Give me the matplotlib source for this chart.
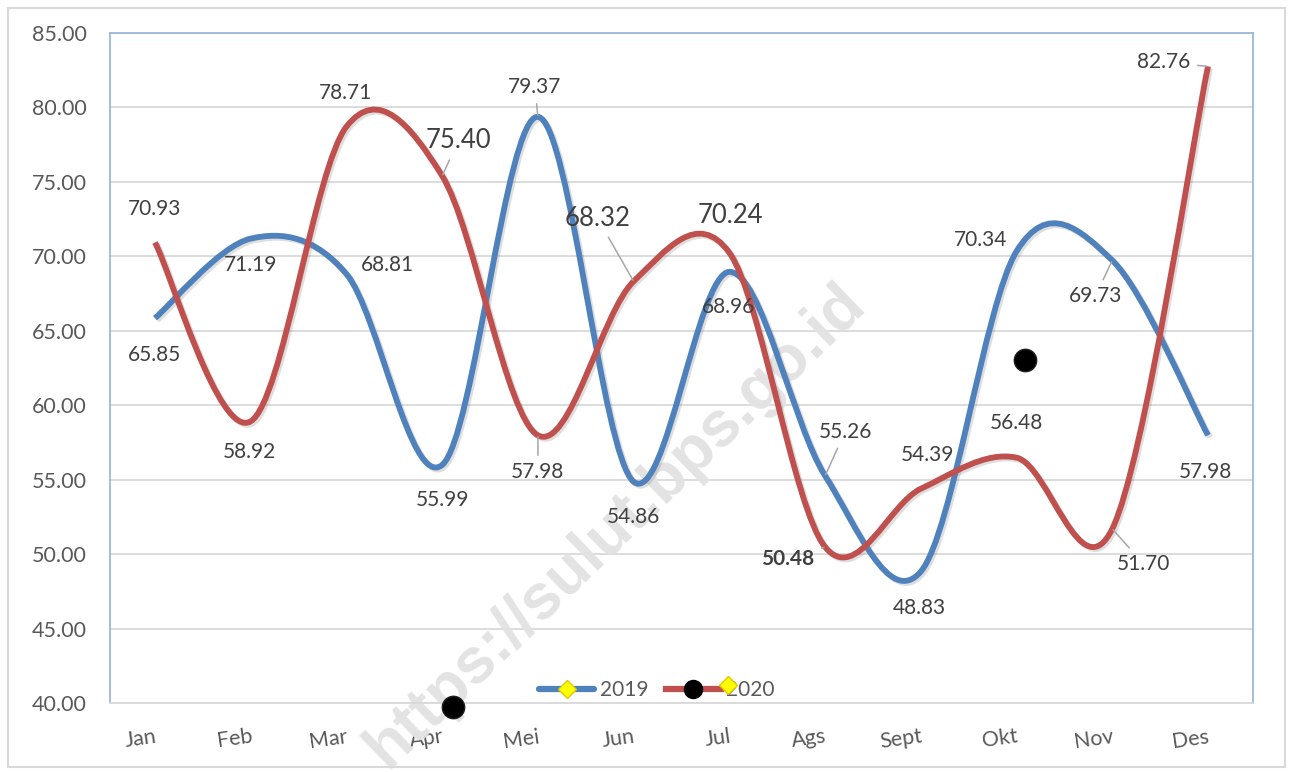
import numpy as np
import matplotlib.pyplot as plt
import matplotlib.patheffects as pe
from matplotlib.path import Path
from matplotlib.patches import PathPatch, Rectangle
from matplotlib.lines import Line2D

plt.rcParams['font.family'] = ['Lato', 'DejaVu Sans']

months = ["Jan", "Feb", "Mar", "Apr", "Mei", "Jun", "Jul", "Ags", "Sept", "Okt", "Nov", "Des"]
v2019 = [65.85, 71.19, 68.81, 55.99, 79.37, 54.86, 68.96, 55.26, 48.83, 70.34, 69.73, 57.98]
v2020 = [70.93, 58.92, 78.71, 75.40, 57.98, 68.32, 70.24, 50.48, 54.39, 56.48, 51.70, 82.76]

# label offsets (pixels) and whether a leader line is drawn
off2019 = [(0, -37), (0, -26), (41, 9), (0, -35), (-3, 30), (0, -35),
           (-1, -35), (20, 44), (-1, -36), (-36, 11), (-17, -36), (-3, -37)]
lead2019 = [False, False, False, False, True, False, False, True, False, False, True, False]
off2020 = [(0, 33), (-1, -31), (-1, 34), (16, 35), (0, -37), (-36, 63),
           (1, 37), (-37, -12), (7, 34), (0, 35), (31, -35), (-44, 4)]
lead2020 = [False, False, False, True, True, True, False, True, False, False, True, True]
big2020 = [False, False, False, True, False, True, True, False, False, False, False, False]

# stray black markers in the original picture
stray_x = [3.11, 9.09]
stray_y = [39.73, 63.04]


def smooth_path(xs, ys):
    pts = np.column_stack([xs, ys])
    n = len(pts)
    verts = [pts[0]]
    codes = [Path.MOVETO]
    for i in range(n - 1):
        p0 = pts[max(i - 1, 0)]
        p1 = pts[i]
        p2 = pts[i + 1]
        p3 = pts[min(i + 2, n - 1)]
        c1 = p1 + (p2 - p0) / 6.0
        c2 = p2 - (p3 - p1) / 6.0
        verts += [c1, c2, p2]
        codes += [Path.CURVE4] * 3
    return Path(verts, codes)


fig = plt.figure(figsize=(12.9, 7.72), dpi=100)
fig.patches.append(Rectangle((8 / 1290, 5 / 772), 1277 / 1290, 759 / 772,
                             transform=fig.transFigure, fill=False,
                             edgecolor='#d9d9d9', lw=1.5))
ax = fig.add_axes([110 / 1290, 1 - 703 / 772, 1143 / 1290, 670 / 772])

x = np.arange(len(months))
ax.set_xlim(-0.47, 11.47)
ax.set_ylim(40, 85)
ax.set_yticks(np.arange(40, 86, 5))
ax.set_yticklabels([f"{t:.2f}" for t in np.arange(40, 86, 5)])
ax.set_xticks(x)
ax.set_xticklabels(months, rotation=8, ha='right', rotation_mode='anchor')
ax.tick_params(length=0, labelsize=15.5, colors='#595959')
ax.tick_params(axis='x', pad=17)
ax.tick_params(axis='y', pad=17)
ax.grid(axis='y', color='#d9d9d9', lw=1.3)
ax.set_axisbelow(True)
for s in ['left', 'top', 'right']:
    ax.spines[s].set_color('#95b3d7')
    ax.spines[s].set_linewidth(1.2)
ax.spines['bottom'].set_color('#d9d9d9')
ax.spines['bottom'].set_linewidth(1.3)

# watermark
ax.text(0.442, 0.265, "https://sulut.bps.go.id", transform=ax.transAxes,
        rotation=44, fontsize=46, fontweight='bold', color='#e3e3e3',
        ha='center', va='center', zorder=1, family='Liberation Sans')

shadow = [pe.SimpleLineShadow(offset=(1.5, -1.5), alpha=0.25, shadow_color='#7f7f7f'), pe.Normal()]
for vals, col in [(v2019, '#4f81bd'), (v2020, '#c0504d')]:
    patch = PathPatch(smooth_path(x, vals), fill=False, edgecolor=col, lw=4.2,
                      capstyle='butt', joinstyle='round', zorder=3)
    patch.set_path_effects(shadow)
    ax.add_patch(patch)

lead = dict(arrowstyle='-', color='#a6a6a6', lw=1.1, shrinkA=3, shrinkB=1)
for i in range(len(months)):
    ax.annotate(f"{v2019[i]:.2f}", (x[i], v2019[i]), xytext=off2019[i],
                textcoords='offset pixels', ha='center', va='center',
                fontsize=15, color='#404040', zorder=5,
                arrowprops=lead if lead2019[i] else None)
    weight = 'bold' if i == 7 else 'normal'
    ax.annotate(f"{v2020[i]:.2f}", (x[i], v2020[i]), xytext=off2020[i],
                textcoords='offset pixels', ha='center', va='center',
                fontsize=18.5 if big2020[i] else 15, fontweight=weight,
                color='#404040', zorder=5,
                arrowprops=lead if lead2020[i] else None)

ax.scatter(stray_x, stray_y, s=260, color='black', edgecolors='#202020',
           zorder=6, clip_on=False)

h1 = Line2D([], [], color='#4f81bd', lw=4.5, solid_capstyle='round', marker='D',
            markersize=9, markerfacecolor='#ffff00', markeredgecolor='#e6c800')
h2 = Line2D([], [], color='#c0504d', lw=4.5, marker='o', markersize=13,
            markerfacecolor='black', markeredgecolor='black')
leg = ax.legend([h1, h2], ["2019", "2020"], loc='center',
                bbox_to_anchor=(0.4786, 0.0195), ncol=2, frameon=False,
                fontsize=15, handlelength=2.65, columnspacing=0.85,
                handletextpad=0.25, borderpad=0, borderaxespad=0)
for t in leg.get_texts():
    t.set_color('#595959')
ax.plot([0.5407], [0.027], transform=ax.transAxes, marker='D', markersize=9,
        color='#ffff00', markeredgecolor='#e6c800', zorder=7, clip_on=False)

fig.savefig("out.png", dpi=100)
